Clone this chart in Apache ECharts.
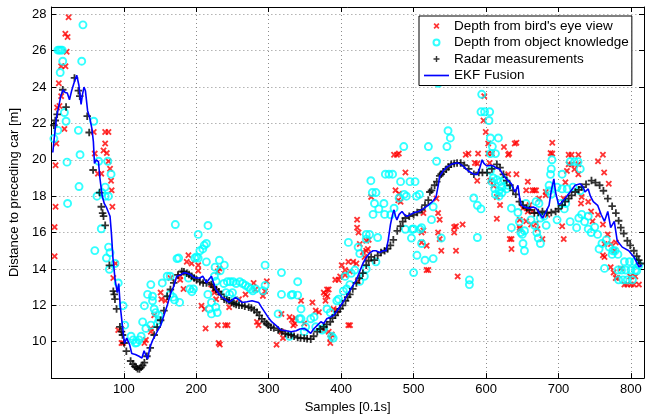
<!DOCTYPE html>
<html>
<head>
<meta charset="utf-8">
<title>EKF Fusion</title>
<script src="https://cdn.jsdelivr.net/npm/echarts@6/dist/echarts.min.js"></script>
<style>
    html, body {margin: 0; padding: 0; background: #fff;}
    #chart {width: 645px; height: 419px;}
</style>
</head>
<body>
<div id="chart"></div>
<script>
// series names (legend)
var seriesNames = ["Depth from bird's eye view", 'Depth from object knowledge', 'Radar measurements', 'EKF Fusion'];

// depth from bird's eye view [sample, m]
var birdEye = [
    [4.5,14.7],[4.5,16.3],[5.8,17.42],[5.8,19.7],[6.8,20.9],[8,22.87],[11.2,22.96],[10.3,24.21],[13.5,23.5],[13.5,25.14],[18,21.7],[19.3,26.93],[19.5,25.14],[21.1,25.94],[22.4,26.75],[23.8,27.84],
    [58.5,21.53],[59.9,20.34],[64.3,19.24],[68.9,19.24],[72,20.51],[74.3,20.9],[74.3,21.53],[76.5,20.37],[78.8,21.53],[78.8,19.92],[81,19.51],[82.4,18.85],[83.2,18.32],[84.2,17.42],[88.6,14.3],[85.5,13.5],
    [92.3,10.64],[96.8,9.93],[99,9.93],[128.4,9.93],[130.5,10.1],[137.3,10.73],[137.3,10.55],[141.9,11.45],[150.8,12.7],[151.8,12.34],[157.6,12.25],[164.3,13.5],[177.8,13.6],[177.8,13.4],[182.4,12.9],
    [186.9,14.39],[189.2,14.75],[193.6,14.3],[202.7,14.21],[202.7,13.9],[207.2,11.98],[211.6,11.8],[212.9,10.73],[220.7,13.14],[225.1,12.87],[227.4,12.34],[229.7,13.86],[231.9,14.03],[229.7,10.91],
    [231,9.93],[232.5,9.85],[240,10.91],[243.2,10.91],[225.1,12.7],[245.4,11.9],[259,12.34],[268,12.6],[279.2,13.23],[281.5,12.87],[283.8,11.09],[286,10.91],[292,12.52],[295,12.78],[297.4,13.32],
    [310.8,9.84],[317.6,11.53],[317.6,10.55],[319.7,10.2],[328.8,11.36],[332,11.2],[334,10.9],[336,11.0],[337,11.3],[344.6,12.25],[349,11.0],[360.3,12.16],[364.9,11.71],[369.3,11.62],[376,12.7],
    [376,10.64],[378.4,12.25],[378.4,12.6],[380.5,12.87],[381,12.5],[382.8,12.87],[382.8,10.55],[385,9.93],[385,10.2],[387,10.4],[389.6,11.8],[391.9,13.4],[394,11.71],[396.4,13.4],[398.6,13.59],
    [400.8,14.21],[405.4,13.67],[405.4,13.94],[409.9,10.91],[409.9,14.39],[412,13.86],[412.2,10.91],[416.6,14.39],[421,14.3],[422,16.71],[422,16.27],[423,13.32],[424,16.0],[425.7,15.37],
    [430,14.93],[432.3,14.66],[434.6,15.0],[434.6,15.55],[436.9,15.1],[438,15.6],[441.4,17.96],[473,20.28],[477,20.28],[479.6,20.34],[475,18.32],[478.8,17.78],[480,18.14],[482,17.69],[488.7,19.3],
    [511,16.0],[511,15.46],[513.5,16.12],[513.5,17.07],[518,15.28],[518,13.94],[520.3,13.94],[531.5,17.87],[533.8,17.07],[533.8,16.0],[536,16.71],[536,15.64],[538.2,15.0],[556,16.0],[556,16.3],
    [558.5,16.35],[558.5,15.0],[560.8,13.59],[567.6,16.44],[572,20.28],[575.7,20.34],[584.6,19.83],[587.8,18.85],[588,19.8],[589,20.34],[597.5,23.5],[596.5,22.16],[599.6,21.53],[603,20.9],
    [602.7,20.34],[608,20.34],[604.9,19.83],[605.8,18.85],[610.3,18.58],[614.9,17.96],[614.9,16.76],[619.3,17.51],[624.7,20.7],[630.5,19.21],[630.5,20.28],[631.9,20.34],[632.8,15.64],[635.1,15.1],
    [635.1,15.64],[639.6,20.9],[641.9,20.94],[641.9,19.21],[646.5,16.27],[646.5,16.71],[646.5,16.18],[650.8,17.34],[655.4,18.32],[655.4,16.62],[657.6,18.8],[657.6,17.16],[660,17.51],[662.2,16.44],
    [664,18.32],[664,17.16],[666.6,18.32],[669,18.32],[669,16.5],[671,16.2],[673.4,17.87],[677.8,15.64],[682.4,18.23],[682.4,18.05],[684.6,16.98],[689,20.37],[691.4,20.34],[691.4,20.94],
    [705,16.35],[707,17.87],[707.2,15.64],[709.5,18.76],[711.6,19.39],[714,20.28],[714,19.75],[718,20.28],[718,19.75],[722,19.48],[727.4,20.28],[727.4,19.75],[727.4,19.21],[731,17.6],[732,17.96],
    [741,17.69],[745,17.16],[747,16.62],[754.5,16.98],[754.5,19.92],[761.3,16.44],[761.3,20.28],[761.3,14.75],[763,19.3],[763.5,15.37],[763.5,14.66],[768,15.9],[769.4,18.68],[772.4,15.37],
    [772,14.1],[777,15.0],[776,13.8],[779.2,15.46],[779,13.5],[781,13.5],[786,14.03],[791,13.14],[795,13.14],[799,13.59],[800,13.14],[804,13.14],[806,13.59],[811,13.14]
];

// depth from object knowledge [sample, m]
var objKnowledge = [
    [3.5,21.17],[9,21.62],[9,26.03],[11,26.03],[13,26.03],[15,26.03],[12.2,24.8],[15.7,25.42],[18,22.6],[20.3,22.12],[21.6,19.87],[22.4,17.6],[37.3,21.62],[38.2,18.53],[39.6,20.28],[41.9,25.42],
    [43.6,27.42],[58.5,22.12],[60,15.01],[63,18.0],[65.3,19.92],[68.9,16.21],[69.7,18.2],[74.3,18.5],[74.3,18.0],[76,14.6],[77.8,19.92],[78.8,18.0],[79,15.2],[81,14.9],[80.1,13.98],[82.4,19.21],
    [87.8,14.3],[92.3,13.23],[99,11.98],[101.3,10.91],[110,10.3],[113,10.1],[116,9.93],[118,9.95],[121,10.1],[124,10.3],[126,11.09],[128.4,11.98],[130.5,10.73],[132.8,12.6],[137.3,13.14],
    [137.3,10.91],[139.6,12.5],[139.6,12.25],[141.9,11.8],[144,11.6],[146.4,11.0],[148.6,11.45],[148.6,11.18],[153.1,13.23],[159.9,13.6],[164,13.6],[164,12.6],[168,12.45],[170,12.3],[171.1,16.44],
    [173.4,14.57],[175.7,14.6],[177,12.16],[189.2,13.5],[191,12.9],[194,12.75],[196,12.9],[198,14.6],[200.4,14.66],[202.7,14.6],[202.7,15.9],[205,15.0],[209,15.1],[211,15.3],[214,15.4],
    [214,14.39],[216.2,16.39],[216,12.6],[218,11.8],[221,11.53],[221,12.16],[225.1,13.6],[226,14.1],[227.4,13.32],[227,11.9],[229,11.6],[231.9,14.48],[233,13.9],[238.7,14.21],[238,13.2],
    [241,12.7],[243,13.3],[246,12.6],[247,13.3],[250,12.7],[251,13.3],[254.5,12.25],[255,13.2],[260,13.3],[264,13.2],[268,13.1],[272,13.0],[275,12.9],[278,12.8],[282,12.9],[292,12.8],[295,13.1],
    [295,14.21],[313,11.53],[317.6,13.8],[317.6,12.6],[328.8,10.3],[331,12.56],[333,12.6],[340,13.3],[340,12.56],[342.3,11.26],[344.6,11.8],[344.6,11.26],[349,10.55],[351,10.82],[358,11.26],
    [362.6,11.36],[364.9,10.82],[373.8,10.64],[376,10.73],[380.5,11.8],[385,11.6],[387,10.3],[389,10.2],[394,12.25],[396.4,12.34],[403,12.78],[405.4,13.59],[407.6,12.9],[410,15.46],[412,13.14],
    [414,13.76],[418.9,13.94],[423.4,15.2],[425.7,13.32],[425.7,14.84],[432,13.6],[434.6,14.0],[434.6,15.64],[434.6,15.9],[439.2,15.9],[441,18.85],[443,18.2],[444,17.0],[446,17.6],[448,18.2],
    [448,14.39],[450.4,15.73],[452,17.3],[459,17.6],[460,17.0],[461,19.21],[466,19.21],[468.4,16.98],[471,19.21],[473,17.34],[480,17.9],[482,18.8],[486.4,20.73],[487,18.1],[488.6,16.18],[490,18.0],
    [495,18.8],[497,15.7],[498,16.18],[500,13.8],[500,16.2],[502,18.8],[504.6,14.75],[504,18.0],[508,18.1],[509,16.18],[511,15.4],[511,16.27],[515.7,14.48],[520.4,20.73],[524.7,16.71],[527,17.42],
    [527,14.57],[531.7,19.92],[534,24.2],[538.2,15.7],[546,20.73],[547.5,21.6],[550.7,21.2],[577,13.14],[577,13.4],[583,17.9],[588,17.5],[588,15.73],[593,17.3],[594,23.6],[593,22.64],[598,22.64],
    [605,22.64],[604,22.16],[606,21.2],[617,21.2],[608.7,20.73],[606,20.34],[613,20.34],[606,19.4],[608,18.8],[610,19.0],[612,18.4],[615,18.9],[618,18.3],[620,18.8],[622,18.5],[625,18.9],[628,18.4],
    [630,18.6],[613,18.1],[618,18.0],[622,18.2],[635,17.34],[635,16.27],[644,17.1],[646,16.6],[648,16.0],[650,15.9],[651,15.4],[653,15.0],[653,16.1],[655,17.6],[662,16.7],[667,16.4],[669,17.7],
    [673,17.6],[675,16.8],[670,16.0],[672,15.7],[675,15.4],[680,16.9],[683,16.4],[687,18.6],[689,19.2],[690,19.5],[691,20.0],[687,18.3],[690,18.1],[698,18.5],[698,16.7],[704,17.6],[705,19.21],
    [705,18.4],[708,17.3],[710,17.6],[712,18.4],[716,19.9],[716,16.6],[720,18.5],[722,19.9],[725,16.27],[727,19.9],[728,16.8],[730,18.3],[730,19.5],[732,17.0],[736,16.6],[741,16.9],[741,16.2],
    [745,16.0],[750,16.3],[754,15.9],[756,15.1],[760,15.4],[763.5,14.03],[766,15.6],[770,15.2],[775,15.0],[774,14.8],[778,15.0],[782,14.8],[782,13.94],[783,13.4],[787,13.94],[789,13.4],[791,14.4],
    [793,13.94],[795,13.4],[798,14.4],[800,13.94],[802,13.4],[805,14.4],[806,13.94],[808,13.9],[811,14.2]
];

// radar measurements [sample, m]
var radar = [
    [3.5,21.9],[5.4,22.16],[8,22.5],[15.7,23.85],[20.3,22.9],[31.9,24.5],[37.3,23.8],[39.2,23.5],[49.5,22.4],[52.2,21.5],[57.6,19.44],[66.6,18.2],[68.9,17.42],[70.7,17.07],[72,16.9],[74.3,16.4],
    [80.1,14.2],[85.5,12.78],[86.8,12.6],[87.8,12.34],[90,11.8],[94.6,10.82],[96.8,10.55],[98.2,10.37],[100.4,9.93],[103.5,9.48],[109.4,8.94],[112.6,8.77],[115,8.65],[117,8.59],[119,8.52],
    [121.6,8.5],[123.8,8.59],[126,8.7],[128.4,8.85],[131.9,9.2],[136.5,9.66],[141.9,10.37],[146,10.8],[150.8,11.18],[155.4,11.71],[159.9,12.5],[164.3,12.87],[168.9,13.23],[174.7,13.67],[180.1,13.86],
    [183,13.85],[186.9,13.77],[190,13.7],[193.6,13.6],[197,13.5],[200.4,13.4],[205,13.3],[209.5,13.23],[214,13.23],[220.7,13.14],[224,13.0],[227.4,12.87],[231,12.75],[234.2,12.6],[238.6,12.34],
    [242,12.3],[245.4,12.25],[249,12.15],[252,12.1],[255,12.05],[259,12.0],[263,12.0],[267,11.95],[272.4,11.9],[276,11.85],[280,11.75],[283.8,11.62],[287,11.45],[290.5,11.26],[294,11.1],[297,11.0],
    [299.5,10.91],[303,10.8],[307,10.75],[313,10.64],[318,10.55],[323,10.45],[327,10.4],[331,10.37],[335,10.3],[340,10.23],[344,10.2],[349,10.19],[353,10.17],[358,10.14],[362,10.3],[367,10.55],
    [371,10.7],[376,10.82],[380,10.95],[385,11.09],[388,11.3],[391.9,11.45],[395,11.65],[398.6,11.8],[402,12.0],[406,12.25],[409,12.45],[412,12.6],[416,12.9],[421,13.23],[425,13.5],[430,13.77],
    [434.6,14.21],[438,14.45],[441.4,14.66],[445.9,14.48],[450.4,14.75],[455,14.9],[460,15.0],[464,15.1],[468,15.3],[472,15.6],[477.4,16.09],[481.9,16.35],[485,16.6],[488.6,16.8],[494,16.9],
    [500,16.98],[505,17.1],[511.2,17.25],[515.7,17.51],[520.3,17.78],[522.4,18.23],[524.7,18.32],[529,18.6],[532,18.8],[536,19.12],[538,19.21],[541,19.35],[545,19.48],[548,19.6],[551.8,19.75],
    [556,19.8],[560,19.83],[565,19.83],[570,19.7],[576,19.5],[583.2,19.21],[590,19.3],[595,19.3],[601.4,19.3],[608,19.5],[614.9,19.75],[619.3,19.57],[624,19.2],[628.4,18.86],[633,18.6],
    [637.3,18.32],[641,18.1],[646,17.7],[651,17.51],[656,17.35],[660,17.25],[666.6,17.07],[672,17.1],[677.8,17.16],[684,17.1],[690,17.1],[696,17.16],[700,17.3],[705,17.51],[709,17.7],[714,17.87],
    [718,18.05],[723,18.23],[728,18.35],[732,18.5],[738,18.65],[745.5,18.86],[751,18.75],[756.8,18.6],[762,18.3],[768,17.87],[774,17.45],[779.2,17.07],[783,16.65],[786,16.27],[790,15.95],
    [795,15.55],[799,15.3],[804,15.0],[808,14.7],[810.8,14.48],[813,14.3]
];

// EKF fusion track [sample, m]
var ekf = [
    [2,20.4],[4,21.2],[7,22.3],[10,22.9],[13,23.5],[16,23.85],[19,23.7],[22,23.67],[25,23.3],[28,23.8],[31,24.2],[35,24.65],[38,24.1],[41,23.05],[43,23.6],[45,24.0],[47,23.8],[50,22.7],[53,22.3],
    [56,21.7],[58,21.0],[59.5,19.8],[62,20.0],[65,19.9],[67,19.0],[70,18.05],[73,17.6],[76.5,17.34],[79,17.42],[81,16.9],[83,15.9],[85,14.6],[88,13.4],[91,12.7],[93,13.2],[95,12.0],[98,10.9],
    [101,9.9],[104,10.2],[108,9.84],[111,9.35],[116,9.3],[121,9.2],[125,9.1],[128,9.5],[131,9.2],[133,9.05],[136,9.7],[140,10.1],[144,10.4],[148,10.7],[151,10.9],[155,11.4],[160,12.0],[164,12.6],
    [169,13.05],[173,13.6],[178,13.67],[183,13.8],[187,13.77],[192,13.7],[196,13.55],[200,13.5],[205,13.5],[209,13.6],[212,13.4],[214,13.23],[217,13.4],[221,13.6],[224,13.2],[227,12.87],
    [232,12.6],[236,12.43],[241,12.3],[245,12.16],[250,12.3],[254,12.43],[259,12.3],[263,12.16],[270,12.2],[277,12.25],[282,12.2],[286,12.16],[290,11.9],[295,11.6],[300,11.3],[304,11.1],
    [310,10.9],[317,10.64],[324,10.6],[331,10.55],[338,10.6],[343,10.7],[349,10.73],[354,10.6],[358,10.46],[362,10.7],[367,10.9],[372,11.1],[376,11.0],[380,11.26],[385,11.35],[390,11.45],
    [396,11.8],[403,12.2],[409,12.6],[415,13.0],[421,13.4],[426,13.9],[430,14.3],[435,14.66],[440,14.9],[444,15.0],[448,15.0],[453,14.9],[458,15.0],[462,15.0],[465,15.6],[468,16.44],[471,17.0],
    [473,17.25],[475,16.9],[477,16.7],[480,17.0],[484,17.16],[488,16.95],[491,16.9],[496,17.0],[501,17.1],[507,17.16],[513,17.3],[520,17.5],[526,17.7],[531,17.96],[534,18.6],[536,19.1],[541,19.4],
    [546,19.6],[552,19.75],[556,19.8],[561,19.83],[565,19.75],[570,19.6],[575,19.4],[579,19.3],[584,19.2],[588,19.2],[591,19.5],[594.6,20.0],[597,19.8],[601,19.66],[606,19.7],[610,19.66],
    [614,19.55],[619,19.48],[623,19.2],[628,18.95],[632,18.8],[635,18.68],[639.6,18.23],[642,18.4],[644,18.6],[646,18.0],[648.6,17.51],[653,17.4],[660,17.34],[665,17.4],[669,17.34],[673,17.1],
    [678,16.8],[682,17.1],[687,17.5],[690,18.3],[693.6,18.95],[696,18.2],[698,17.87],[700,17.55],[703,17.6],[709,17.87],[716,18.23],[723,18.6],[730,18.68],[734,18.5],[736.5,18.23],[741,18.4],
    [744,18.0],[748,17.7],[754,17.5],[759,16.98],[763.5,16.62],[768,17.16],[772,16.27],[777,16.62],[781,15.55],[788,15.2],[797,15.0],[804,14.66],[811,14.12],[815,14.2]
];

var crossMark = 'path://M0,2L2,0L5,3L8,0L10,2L7,5L10,8L8,10L5,7L2,10L0,8L3,5Z';
var plusMark = 'path://M3.8,0h2.4v3.8h3.8v2.4h-3.8v3.8h-2.4v-3.8h-3.8v-2.4h3.8z';
var lineMark = 'path://M0,0h15v1h-15z';
var fontName = '"Liberation Sans", Arial, Helvetica, sans-serif';

var chart = echarts.init(document.getElementById('chart'));

//坐标轴公共设置
var gridLine = {show: true, lineStyle: {color: '#8c8c8c', width: 1, type: [1, 3]}};
var frameLine = {show: true, onZero: false, lineStyle: {color: '#000', width: 1}};
var innerTick = {show: true, inside: true, length: 5, lineStyle: {color: '#000', width: 1}};

var option = {
    animation: false,
    backgroundColor: '#fff',
    textStyle: {fontFamily: fontName},
    grid: {left: 42, right: 1, top: 7, bottom: 31},
    legend: {
        data: [
            {name: seriesNames[0]},
            {name: seriesNames[1]},
            {name: seriesNames[2]},
            {name: seriesNames[3], icon: lineMark}
        ],
        orient: 'vertical',
        left: 419,
        top: 16,
        padding: [2, 3, 2, 5],
        itemWidth: 25,
        itemHeight: 6,
        itemGap: 0.5,
        backgroundColor: '#fff',
        borderColor: '#000',
        borderWidth: 1,
        textStyle: {color: '#000', fontSize: 13.5, lineHeight: 16, fontFamily: fontName}
    },
    xAxis: [{
        type: 'value',
        min: 0,
        max: 818,
        interval: 100,
        name: 'Samples [0.1s]',
        nameLocation: 'middle',
        nameGap: 19,
        nameTextStyle: {color: '#000', fontSize: 13, fontFamily: fontName},
        axisLine: frameLine,
        axisTick: innerTick,
        axisLabel: {color: '#000', fontSize: 13, margin: 5, showMinLabel: false, showMaxLabel: false, fontFamily: fontName},
        splitLine: gridLine
    }, {
        type: 'value',
        position: 'top',
        min: 0,
        max: 818,
        interval: 100,
        axisLine: frameLine,
        axisTick: innerTick,
        axisLabel: {show: false},
        splitLine: {show: false}
    }],
    yAxis: [{
        type: 'value',
        min: 8,
        max: 28.4,
        interval: 2,
        name: 'Distance to preceding car [m]',
        nameLocation: 'middle',
        nameGap: 21,
        nameTextStyle: {color: '#000', fontSize: 13, fontFamily: fontName},
        axisLine: frameLine,
        axisTick: innerTick,
        axisLabel: {color: '#000', fontSize: 13, margin: 5, showMinLabel: false, showMaxLabel: false, fontFamily: fontName},
        splitLine: gridLine
    }, {
        type: 'value',
        position: 'right',
        min: 8,
        max: 28.4,
        interval: 2,
        axisLine: frameLine,
        axisTick: innerTick,
        axisLabel: {show: false},
        splitLine: {show: false}
    }],
    series: [{
        name: seriesNames[0],
        type: 'scatter',
        data: birdEye,
        symbol: crossMark,
        symbolSize: 6.5,
        itemStyle: {color: '#ff0000'}
    }, {
        name: seriesNames[1],
        type: 'scatter',
        data: objKnowledge,
        symbol: 'circle',
        symbolSize: 7,
        itemStyle: {color: 'transparent', borderColor: '#00ffff', borderWidth: 1.9}
    }, {
        name: seriesNames[2],
        type: 'scatter',
        data: radar,
        symbol: plusMark,
        symbolSize: 7.5,
        itemStyle: {color: '#000'}
    }, {
        name: seriesNames[3],
        type: 'line',
        data: ekf,
        showSymbol: false,
        symbol: 'none',
        lineStyle: {color: '#0000ff', width: 1.6},
        itemStyle: {color: '#0000ff'}
    }]
};
chart.setOption(option);
</script>
</body>
</html>
